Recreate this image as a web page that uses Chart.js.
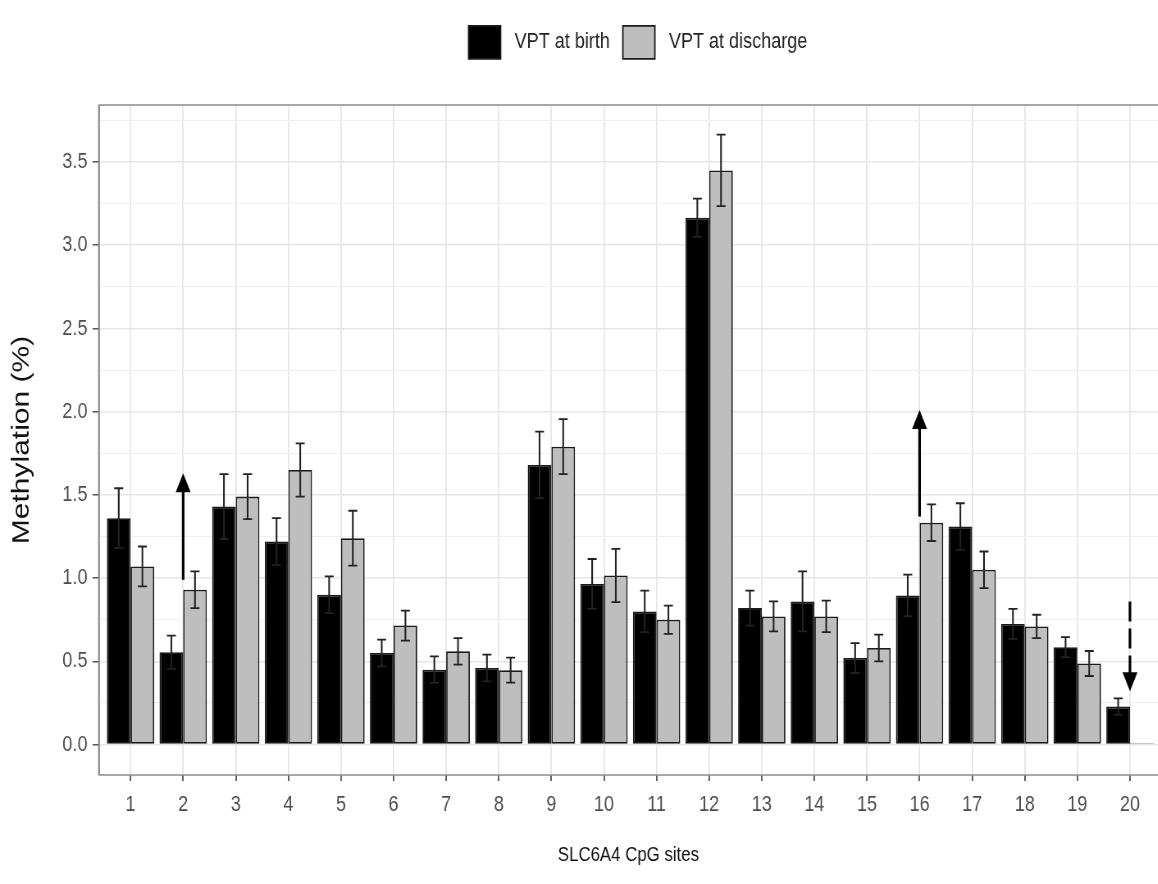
<!DOCTYPE html>
<html>
<head>
<meta charset="utf-8">
<script src="https://cdn.jsdelivr.net/npm/chart.js@4.4.1/dist/chart.umd.min.js"></script>
<style>
  html, body { margin: 0; padding: 0; background: #ffffff; overflow: hidden; width: 1158px; height: 884px; }
  /* the reference figure is horizontally condensed; draw wide and condense */
  #wrap { width: 1412px; height: 884px; position: relative; transform: scaleX(0.82); transform-origin: 0 0; }
</style>
</head>
<body>
<div id="wrap"><canvas id="c"></canvas></div>
<script>
// ---- data ----
const sites = [1,2,3,4,5,6,7,8,9,10,11,12,13,14,15,16,17,18,19,20];
const birth        = [1.36,0.555,1.43,1.22,0.90,0.55,0.45,0.46,1.68,0.965,0.80,3.165,0.82,0.86,0.52,0.896,1.31,0.725,0.585,0.228];
const birthErr     = [0.18,0.10,0.195,0.14,0.11,0.08,0.08,0.08,0.20,0.15,0.125,0.115,0.105,0.18,0.09,0.125,0.14,0.09,0.06,0.05];
const discharge    = [1.07,0.93,1.49,1.65,1.24,0.715,0.56,0.447,1.79,1.016,0.75,3.45,0.77,0.77,0.58,1.333,1.05,0.71,0.487,0.008];
const dischargeErr = [0.12,0.11,0.135,0.16,0.165,0.09,0.08,0.075,0.165,0.16,0.085,0.215,0.09,0.095,0.08,0.11,0.11,0.07,0.075,0];
const yTicks = [0,0.25,0.5,0.75,1,1.25,1.5,1.75,2,2.25,2.5,2.75,3,3.25,3.5,3.75];
const seriesNames = ['VPT at birth', 'VPT at discharge'];
// arrows: site, start value, end value, dashed
const arrowSites  = [2, 16, 20];
const arrowFrom   = [0.99, 1.37, 0.86];
const arrowTo     = [1.63, 2.01, 0.32];
const arrowDashed = [false, false, true];

const K = 0.82; // horizontal condensing factor
const FONT = "'Liberation Sans',Arial,sans-serif";

const errorBars = {
  id: 'errorBars',
  afterDatasetsDraw(chart) {
    const ctx = chart.ctx, ys = chart.scales.y;
    const errs = [birthErr, dischargeErr];
    const vals = [birth, discharge];
    ctx.save();
    ctx.strokeStyle = '#222';
    errs.forEach((arr, di) => {
      const meta = chart.getDatasetMeta(di);
      meta.data.forEach((bar, i) => {
        const e = arr[i];
        if (!e) return;
        const v = vals[di][i];
        const x = bar.x;
        const yt = ys.getPixelForValue(v + e);
        const yb = ys.getPixelForValue(v - e);
        const cw = 4.5 / K;
        ctx.lineWidth = 1.7 / K;
        ctx.beginPath();
        ctx.moveTo(x, yt); ctx.lineTo(x, yb);
        ctx.stroke();
        ctx.lineWidth = 1.8;
        ctx.beginPath();
        ctx.moveTo(x - cw, yt); ctx.lineTo(x + cw, yt);
        ctx.moveTo(x - cw, yb); ctx.lineTo(x + cw, yb);
        ctx.stroke();
      });
    });
    ctx.restore();
  }
};

const arrows = {
  id: 'arrows',
  afterDatasetsDraw(chart) {
    const ctx = chart.ctx, xs = chart.scales.x, ys = chart.scales.y;
    ctx.save();
    arrowSites.forEach((s, i) => {
      const x = xs.getPixelForValue(s);
      const y1 = ys.getPixelForValue(arrowFrom[i]);
      const y2 = ys.getPixelForValue(arrowTo[i]);
      const dir = y2 < y1 ? -1 : 1;
      const headLen = 19, headHalf = 7.5 / K;
      const yBase = y2 - dir * headLen;
      ctx.strokeStyle = '#000';
      ctx.fillStyle = '#000';
      ctx.lineWidth = 2.6 / K;
      ctx.setLineDash(arrowDashed[i] ? [20, 7] : []);
      ctx.beginPath();
      ctx.moveTo(x, y1); ctx.lineTo(x, yBase + dir * 2);
      ctx.stroke();
      ctx.setLineDash([]);
      ctx.beginPath();
      ctx.moveTo(x, y2);
      ctx.lineTo(x - headHalf, yBase);
      ctx.lineTo(x + headHalf, yBase);
      ctx.closePath();
      ctx.fill();
    });
    ctx.restore();
  }
};

const panelBorder = {
  id: 'panelBorder',
  afterDraw(chart) {
    const {ctx, chartArea: a} = chart;
    ctx.save();
    ctx.strokeStyle = '#8c8c8c';
    ctx.lineWidth = 1.7;
    ctx.beginPath();
    ctx.moveTo(a.right + 20, a.top); ctx.lineTo(a.left, a.top);
    ctx.lineTo(a.left, a.bottom); ctx.lineTo(a.right + 20, a.bottom);
    ctx.stroke();
    ctx.lineWidth = 1.7 / K;
    ctx.beginPath();
    ctx.moveTo(a.left, a.top); ctx.lineTo(a.left, a.bottom);
    ctx.stroke();
    ctx.restore();
  }
};

const legendPlace = {
  id: 'legendPlace',
  afterInit(chart) {
    const lg = chart.legend;
    if (lg) {
      const orig = lg.fit;
      lg.fit = function () { orig.call(this); this.height = 105; };
    }
  },
  afterLayout(chart) {
    const lg = chart.legend;
    if (lg) {
      const d = 59 / K;
      lg.left += d; lg.right += d;
      lg.top += 10;
    }
  }
};

new Chart(document.getElementById('c'), {
  type: 'bar',
  data: {
    datasets: [
      {
        label: ' ' + seriesNames[0],
        data: birth.map((v, i) => ({x: sites[i], y: v})),
        backgroundColor: '#000000',
        borderColor: '#1a1a1a',
        borderWidth: 1.8,
        borderSkipped: false
      },
      {
        label: ' ' + seriesNames[1],
        data: discharge.map((v, i) => ({x: sites[i], y: v})),
        backgroundColor: '#bebebe',
        borderColor: '#1a1a1a',
        borderWidth: 1.8,
        borderSkipped: false
      }
    ]
  },
  options: {
    responsive: true,
    maintainAspectRatio: false,
    animation: false,
    categoryPercentage: 0.9,
    barPercentage: 1.0,
    layout: { padding: {top: 0, left: 0, right: 0, bottom: 0} },
    plugins: {
      tooltip: { enabled: false },
      legend: {
        position: 'top',
        labels: {
          boxWidth: 32 / K, boxHeight: 33,
          padding: 13 / K,
          color: '#222',
          font: { family: FONT, size: 22 }
        }
      }
    },
    scales: {
      x: {
        type: 'linear',
        min: 0.4, max: 20.53,
        offset: false,
        afterBuildTicks: s => { s.ticks = sites.map(v => ({value: v})); },
        afterFit: s => { s.height = 109; },
        grid: {
          offset: false,
          color: '#e8e8e8', lineWidth: 1.6 / K,
          drawTicks: true, tickLength: 6, tickColor: '#555', tickWidth: 1.5 / K
        },
        border: { display: false },
        ticks: {
          padding: 11,
          color: '#4d4d4d',
          font: { family: FONT, size: 22 },
          maxRotation: 0, autoSkip: false,
          callback: v => String(v)
        },
        title: {
          display: true, text: 'SLC6A4 CpG sites',
          color: '#111',
          font: { family: FONT, size: 20.5 },
          padding: { top: 0, bottom: 16 }
        }
      },
      y: {
        min: -0.183, max: 3.843,
        afterBuildTicks: s => { s.ticks = yTicks.map(v => ({value: v})); },
        afterFit: s => { s.width = 99 / K; },
        grid: {
          color: c => (Math.round(c.tick.value * 100) % 50 === 0) ? '#e6e6e6' : '#efefef',
          lineWidth: c => (Math.round(c.tick.value * 100) % 50 === 0) ? 1.6 : 1.0,
          drawTicks: true, tickLength: 6.5 / K,
          tickColor: c => (Math.round(c.tick.value * 100) % 50 === 0) ? '#555' : 'rgba(0,0,0,0)',
          tickWidth: 1.5
        },
        border: { display: false },
        ticks: {
          padding: 5 / K,
          color: '#4d4d4d',
          font: { family: FONT, size: 22 },
          autoSkip: false,
          callback: v => (Math.round(v * 100) % 50 === 0) ? v.toFixed(1) : ''
        },
        title: {
          display: true, text: 'Methylation (%)',
          color: '#111',
          font: { family: FONT, size: 30 },
          padding: { top: 9, bottom: 0 }
        }
      }
    }
  },
  plugins: [legendPlace, errorBars, arrows, panelBorder]
});
</script>
</body>
</html>
